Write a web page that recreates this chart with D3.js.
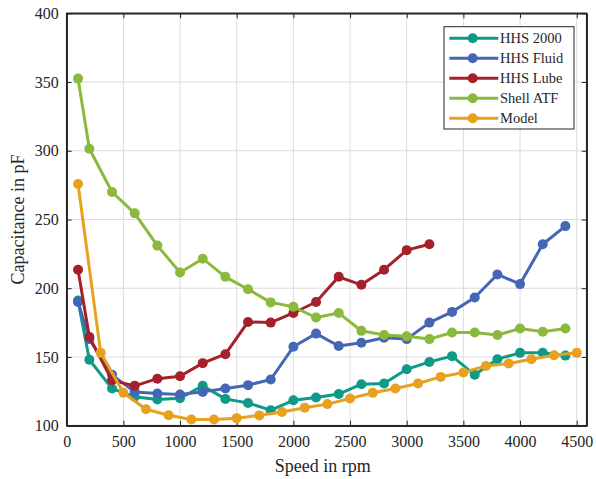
<!DOCTYPE html>
<html><head><meta charset="utf-8">
<script src="https://cdn.jsdelivr.net/npm/d3@7"></script>
<style>body{margin:0;background:#fff}svg{display:block}svg text{font-family:"Liberation Serif",serif !important;fill:#262626}</style>
</head><body>
<svg id="c" width="596" height="479" font-family="Liberation Serif, serif"></svg>
<script>
const speedsA = [100,200,400,600,800,1000,1200,1400,1600,1800,2000,2200,2400,2600,2800,3000,3200,3400,3600,3800,4000,4200,4400];
const speedsLube = [100,200,400,600,800,1000,1200,1400,1600,1800,2000,2200,2400,2600,2800,3000,3200];
const speedsModel = [100,300,500,700,900,1100,1300,1500,1700,1900,2100,2300,2500,2700,2900,3100,3300,3500,3700,3900,4100,4300,4500];
const hhs2000 = [191,148,127,121,119,120,129,119.5,116.5,111.3,118.5,120.5,123,130.2,130.7,141,146.4,150.6,137,148.4,153,153,151];
const hhsFluid = [190,163,137,124.6,123.4,122.7,124.6,127,129.5,133.6,157.4,167,158,160.3,164,163,175,182.8,193.3,210,203,232,245.2];
const hhsLube = [213.5,164.5,133,129,134.2,136,145.5,152,175.5,175,182,190,208.3,202.5,213.5,227.7,232];
const shellATF = [352.5,301.5,270,254.5,231,211.5,221.5,208.3,199.3,189.7,186.5,178.7,182,169,166,165,163,167.8,167.8,166,170.7,168.3,170.7];
const model = [275.8,153,124,112,107.6,104.5,104.5,105.5,107.5,110,113,115.7,119.8,123.9,127,130.7,135.5,138.7,143.5,145.3,148.4,151.3,153];
const seriesNames = ["HHS 2000","HHS Fluid","HHS Lube","Shell ATF","Model"];
const seriesColors = ["#0e9a87","#4466b5","#a6202a","#8ab93d","#e8a11f"];
const xTicks = [0,500,1000,1500,2000,2500,3000,3500,4000,4500];
const yTicks = [100,150,200,250,300,350,400];

const series = [
  {name:seriesNames[0], x:speedsA, y:hhs2000, c:seriesColors[0]},
  {name:seriesNames[1], x:speedsA, y:hhsFluid, c:seriesColors[1]},
  {name:seriesNames[2], x:speedsLube, y:hhsLube, c:seriesColors[2]},
  {name:seriesNames[3], x:speedsA, y:shellATF, c:seriesColors[3]},
  {name:seriesNames[4], x:speedsModel, y:model, c:seriesColors[4]}
];

const FONT = "Liberation Serif, serif";
const L=66.7, R=586.7, T=13.3, B=425.7;
const svg = d3.select("#c");
const x = d3.scaleLinear().domain([0,4588]).range([L,R]);
const y = d3.scaleLinear().domain([100,400]).range([B,T]);

// grid
const g = svg.append("g");
g.selectAll(".gx").data(xTicks).enter().append("line")
  .attr("x1",d=>x(d)).attr("x2",d=>x(d)).attr("y1",T).attr("y2",B)
  .attr("stroke","#dcdcdc").attr("stroke-width",1);
g.selectAll(".gy").data(yTicks).enter().append("line")
  .attr("x1",L).attr("x2",R).attr("y1",d=>y(d)).attr("y2",d=>y(d))
  .attr("stroke","#dcdcdc").attr("stroke-width",1);

// axes
const fmt = d3.format("d");
const xb = svg.append("g").attr("transform",`translate(0,${B})`)
  .call(d3.axisBottom(x).tickValues(xTicks).tickFormat(fmt).tickSizeInner(-5).tickSizeOuter(0).tickPadding(10));
const xt = svg.append("g").attr("transform",`translate(0,${T})`)
  .call(d3.axisTop(x).tickValues(xTicks).tickFormat("").tickSizeInner(-5).tickSizeOuter(0));
const yl = svg.append("g").attr("transform",`translate(${L},0)`)
  .call(d3.axisLeft(y).tickValues(yTicks).tickFormat(fmt).tickSizeInner(-5).tickSizeOuter(0).tickPadding(8));
const yr = svg.append("g").attr("transform",`translate(${R},0)`)
  .call(d3.axisRight(y).tickValues(yTicks).tickFormat("").tickSizeInner(-5).tickSizeOuter(0));
[xb,xt,yl,yr].forEach(a=>{
  a.attr("font-family",FONT).attr("font-size",16);
  a.selectAll("path").attr("stroke","#262626").attr("stroke-width",1.5);
  a.selectAll("line").attr("stroke","#262626");
  a.selectAll("text").attr("font-family",FONT).attr("font-size",16).attr("fill","#262626");
});
svg.append("rect").attr("x",L).attr("y",T).attr("width",R-L).attr("height",B-T)
  .attr("fill","none").attr("stroke","#262626").attr("stroke-width",1.5);

// lines
const line = d3.line().x(d=>x(d[0])).y(d=>y(d[1]));
series.forEach(s=>{
  const pts = s.x.map((v,i)=>[v,s.y[i]]);
  svg.append("path").datum(pts).attr("d",line).attr("fill","none")
    .attr("stroke",s.c).attr("stroke-width",3).attr("stroke-linejoin","round");
  svg.append("g").selectAll("circle").data(pts).enter().append("circle")
    .attr("cx",d=>x(d[0])).attr("cy",d=>y(d[1])).attr("r",5).attr("fill",s.c);
});

// labels
svg.append("text").attr("x",(L+R)/2-4).attr("y",472).attr("text-anchor","middle")
  .attr("font-family",FONT).attr("font-size",18).text("Speed in rpm");
svg.append("text").attr("transform",`translate(24,${(T+B)/2}) rotate(-90)`).attr("text-anchor","middle")
  .attr("font-family",FONT).attr("font-size",18).text("Capacitance in pF");

// legend
const lg = svg.append("g");
lg.append("rect").attr("x",444).attr("y",26.7).attr("width",130).attr("height",102.3)
  .attr("fill","#fff").attr("stroke","#262626").attr("stroke-width",1);
series.forEach((s,i)=>{
  const yy = 38.3 + i*20;
  lg.append("line").attr("x1",449.3).attr("x2",498.3).attr("y1",yy).attr("y2",yy)
    .attr("stroke",s.c).attr("stroke-width",3);
  lg.append("circle").attr("cx",472.7).attr("cy",yy).attr("r",5).attr("fill",s.c);
  lg.append("text").attr("x",500).attr("y",yy+5).attr("font-family",FONT).attr("font-size",14.5).text(s.name);
});
</script>
</body></html>
